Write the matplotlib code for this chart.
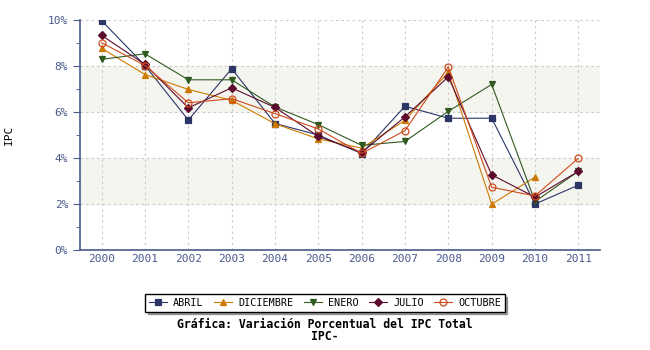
import matplotlib
matplotlib.use("Agg")
import matplotlib.pyplot as plt
from matplotlib.ticker import MultipleLocator, FuncFormatter

years = ["2000", "2001", "2002", "2003", "2004", "2005", "2006", "2007", "2008", "2009", "2010", "2011"]
abril = [9.97, 8.02, 5.65, 7.88, 5.50, 5.00, 4.19, 6.25, 5.73, 5.73, 2.00, 2.82]
diciembre = [8.77, 7.63, 6.98, 6.51, 5.49, 4.83, 4.43, 5.64, 7.73, 1.99, 3.17, None]
enero = [8.29, 8.53, 7.40, 7.40, 6.22, 5.45, 4.55, 4.72, 6.03, 7.20, 2.11, 3.42]
julio = [9.33, 8.07, 6.18, 7.05, 6.20, 4.94, 4.24, 5.79, 7.53, 3.27, 2.30, 3.42]
octubre = [9.01, 8.02, 6.40, 6.58, 5.93, 5.26, 4.20, 5.19, 7.96, 2.73, 2.35, 3.99]

mono = "DejaVu Sans Mono"
axc = "#4a5a8a"

fig = plt.figure(figsize=(6.5, 3.5), dpi=100)
ax = fig.add_axes([80/650, 100/350, 520/650, 230/350])
x = list(range(len(years)))

ax.axhspan(6, 8, color="#f5f5f0", zorder=0)
ax.axhspan(2, 4, color="#f5f5f0", zorder=0)

series = [
    ("ABRIL", abril, "#2b3566", "s", "#2b3566"),
    ("DICIEMBRE", diciembre, "#cc7a00", "^", "#cc7a00"),
    ("ENERO", enero, "#2f5a1f", "v", "#2f5a1f"),
    ("JULIO", julio, "#5c0a2e", "D", "#5c0a2e"),
    ("OCTUBRE", octubre, "#cc4a1a", "o", "none"),
]
for name, vals, c, m, fc in series:
    ms = 5 if m != "D" else 4
    yv = [float("nan") if v is None else v for v in vals]
    ax.plot(x, yv, color=c, lw=0.8, marker=m, ms=ms, mfc=fc, mec=c, mew=0.9, label=name, zorder=3)

ax.set_xlim(-0.5, 11.5)
ax.set_ylim(0, 10)
ax.yaxis.set_major_locator(MultipleLocator(2))
ax.yaxis.set_minor_locator(MultipleLocator(1))
ax.yaxis.set_major_formatter(FuncFormatter(lambda v, p: f"{int(v)}%"))
ax.set_xticks(x)
ax.set_xticklabels(years)
ax.grid(True, which="major", color="#c8c8c8", ls=(0, (2, 3)), lw=0.8)
ax.set_axisbelow(True)
for s in ["top", "right"]:
    ax.spines[s].set_visible(False)
for s in ["left", "bottom"]:
    ax.spines[s].set_color(axc)
    ax.spines[s].set_linewidth(1.2)
ax.tick_params(axis="both", which="both", colors=axc, labelsize=8, labelcolor=axc)
ax.tick_params(axis="y", which="major", length=5)
ax.tick_params(axis="y", which="minor", length=3)
ax.tick_params(axis="x", length=0, pad=3)
for lab in ax.get_xticklabels() + ax.get_yticklabels():
    lab.set_family(mono)

fig.text(9/650, 1 - 135/350, "IPC", rotation=90, ha="center", va="center", fontsize=8, family=mono, color="black")

leg = fig.legend(loc="center", bbox_to_anchor=(325/650, 1 - 303/350), ncol=5, frameon=True,
                 prop={"family": mono, "size": 7.3}, handlelength=1.8, columnspacing=1.0,
                 handletextpad=0.6, borderpad=0.35, fancybox=False, shadow=True)
leg.get_frame().set_edgecolor("black")
leg.get_frame().set_linewidth(1.0)

fig.text(325/650, 1 - 325/350, "Gráfica: Variación Porcentual del IPC Total", ha="center", va="center",
         fontsize=8.3, family=mono, weight="bold")
fig.text(325/650, 1 - 337/350, "IPC-", ha="center", va="center", fontsize=8.3, family=mono, weight="bold")

fig.savefig("out.png", dpi=100)
